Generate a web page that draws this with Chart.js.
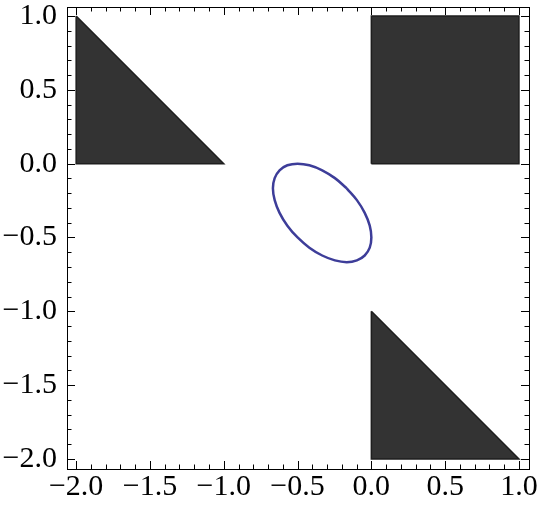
<!DOCTYPE html>
<html>
<head>
<meta charset="utf-8">
<script src="https://cdn.jsdelivr.net/npm/chart.js@4"></script>
<style>
  body { margin: 0; background: #fff; }
  canvas { display: block; }
</style>
</head>
<body>
<canvas id="plot" width="538" height="513"></canvas>
<script>
// Region shapes (polygon corners)
const triangleTopLeft = [
  { x: -2, y: 1 }, { x: -2, y: 0 }, { x: -1, y: 0 }, { x: -2, y: 1 }
];
const squareTopRight = [
  { x: 0, y: 0 }, { x: 1, y: 0 }, { x: 1, y: 1 }, { x: 0, y: 1 }, { x: 0, y: 0 }
];
const triangleBottomRight = [
  { x: 0, y: -1 }, { x: 0, y: -2 }, { x: 1, y: -2 }, { x: 0, y: -1 }
];

// Ellipse outline
const ellipseX = [-0.167, -0.098, -0.045, -0.011, 0.000, -0.011, -0.045, -0.098,
  -0.167, -0.247, -0.333, -0.420, -0.500, -0.569, -0.622, -0.655,
  -0.667, -0.655, -0.622, -0.569, -0.500, -0.420, -0.333, -0.247, -0.167];
const ellipseY = [-0.167, -0.247, -0.333, -0.420, -0.500, -0.569, -0.622, -0.655,
  -0.667, -0.655, -0.622, -0.569, -0.500, -0.420, -0.333, -0.247,
  -0.167, -0.098, -0.045, -0.011, 0.000, -0.011, -0.045, -0.098, -0.167];

// Tick labels
const xTicks = [-2.0, -1.5, -1.0, -0.5, 0.0, 0.5, 1.0];
const yTicks = [-2.0, -1.5, -1.0, -0.5, 0.0, 0.5, 1.0];
const minorTicks = [];
for (let i = -20; i <= 10; i++) minorTicks.push(i / 10);

const fmt = v => (v < 0 ? "\u2212" : "") + Math.abs(v).toFixed(1);

// frame with inward ticks on all four sides
const framePlugin = {
  id: "frame",
  afterDraw(chart) {
    const { ctx, chartArea: a, scales } = chart;
    ctx.save();
    ctx.strokeStyle = "#000";
    ctx.lineWidth = 1;
    ctx.strokeRect(a.left + 0.5, a.top + 0.5, a.right - a.left, a.bottom - a.top);
    ctx.beginPath();
    minorTicks.forEach(v => {
      const major = Math.abs(v * 2 - Math.round(v * 2)) < 1e-6;
      const len = major ? 8 : 4.5;
      const px = Math.round(scales.x.getPixelForValue(v)) + 0.5;
      const py = Math.round(scales.y.getPixelForValue(v)) + 0.5;
      ctx.moveTo(px, a.bottom); ctx.lineTo(px, a.bottom - len);
      ctx.moveTo(px, a.top); ctx.lineTo(px, a.top + len);
      ctx.moveTo(a.left, py); ctx.lineTo(a.left + len, py);
      ctx.moveTo(a.right, py); ctx.lineTo(a.right - len, py);
    });
    ctx.stroke();
    ctx.restore();
  }
};

const shapeStyle = {
  showLine: true,
  fill: "shape",
  backgroundColor: "#333333",
  borderColor: "#1e1e1e",
  borderWidth: 1.5,
  pointRadius: 0,
  tension: 0
};

const labelFont = { family: "'Liberation Serif', 'Times New Roman', serif", size: 30 };

new Chart(document.getElementById("plot"), {
  type: "scatter",
  data: {
    datasets: [
      Object.assign({ data: triangleTopLeft }, shapeStyle),
      Object.assign({ data: squareTopRight }, shapeStyle),
      Object.assign({ data: triangleBottomRight }, shapeStyle),
      {
        data: ellipseX.map((x, i) => ({ x, y: ellipseY[i] })),
        showLine: true,
        fill: false,
        borderColor: "#3d3d99",
        borderWidth: 2.5,
        pointRadius: 0,
        tension: 0.4
      }
    ]
  },
  options: {
    responsive: false,
    animation: false,
    layout: { autoPadding: false, padding: { top: 7, right: 9, left: 0, bottom: 0 } },
    plugins: { legend: { display: false }, tooltip: { enabled: false } },
    scales: {
      x: {
        type: "linear",
        min: -2.062,
        max: 1.068,
        grid: { display: false, drawTicks: false },
        border: { display: false },
        afterBuildTicks: s => { s.ticks = xTicks.map(v => ({ value: v })); },
        afterFit: s => { s.height = 44; s.paddingLeft = 0; s.paddingRight = 0; },
        ticks: {
          padding: 0,
          maxRotation: 0,
          autoSkip: false,
          color: "#000",
          font: labelFont,
          callback: v => fmt(v)
        }
      },
      y: {
        type: "linear",
        min: -2.068,
        max: 1.061,
        grid: { display: false, drawTicks: false },
        border: { display: false },
        afterBuildTicks: s => { s.ticks = yTicks.map(v => ({ value: v })); },
        afterFit: s => { s.width = 67; s.paddingTop = 0; s.paddingBottom = 0; },
        ticks: {
          padding: 10,
          autoSkip: false,
          color: "#000",
          font: labelFont,
          callback: v => fmt(v)
        }
      }
    }
  },
  plugins: [framePlugin]
});
</script>
</body>
</html>
